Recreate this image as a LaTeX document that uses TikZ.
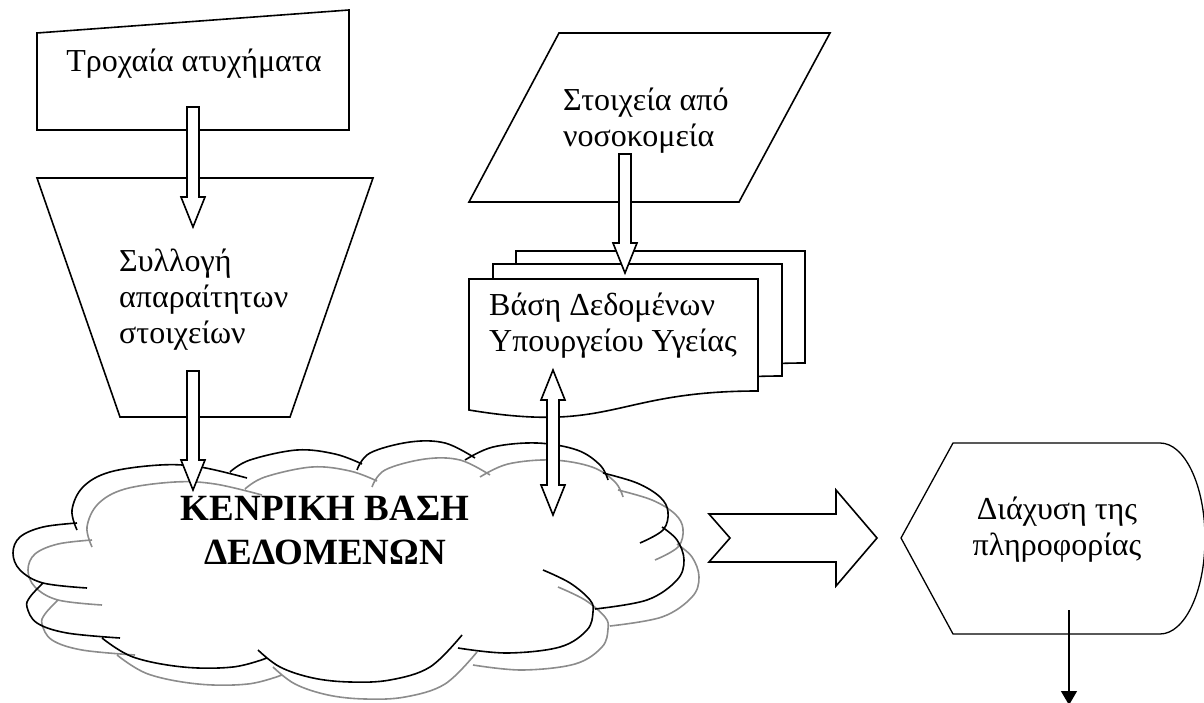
\documentclass[tikz,border=0pt]{standalone}
\usepackage{fontspec}
\setmainfont{Liberation Serif}
\usepackage{tikz}
\usetikzlibrary{calc}
\usetikzlibrary{arrows.meta}

\tikzset{
	shapeline/.style={draw, line width=1.6pt, fill=white, line join=miter},
	boxtext/.style={inner sep=0pt, font=\fontsize{32}{36}\selectfont},
	basetext/.style={inner sep=0pt, font=\fontsize{37}{44}\selectfont\bfseries},
	cloudline/.style={line width=1.6pt, black},
	cloudshadow/.style={line width=1.6pt, black!45},
	puff/.style={smooth, tension=0.6},
	hollow arrow/.style={shapeline, to path={
		($(\tikztotarget)!30pt!(\tikztostart)$) coordinate (ha-b)
		($(\tikztostart)!6pt!90:(\tikztotarget)$)
		-- ($(ha-b)!6pt!90:(\tikztotarget)$)
		-- ($(ha-b)!12pt!90:(\tikztotarget)$)
		-- (\tikztotarget)
		-- ($(ha-b)!12pt!-90:(\tikztotarget)$)
		-- ($(ha-b)!6pt!-90:(\tikztotarget)$)
		-- ($(\tikztostart)!6pt!-90:(\tikztotarget)$) -- cycle}},
	double hollow arrow/.style={shapeline, to path={
		($(\tikztotarget)!30pt!(\tikztostart)$) coordinate (hb-e)
		($(\tikztostart)!30pt!(\tikztotarget)$) coordinate (hb-s)
		(\tikztostart)
		-- ($(hb-s)!12pt!90:(\tikztotarget)$)
		-- ($(hb-s)!6pt!90:(\tikztotarget)$)
		-- ($(hb-e)!6pt!90:(\tikztotarget)$)
		-- ($(hb-e)!12pt!90:(\tikztotarget)$)
		-- (\tikztotarget)
		-- ($(hb-e)!12pt!-90:(\tikztotarget)$)
		-- ($(hb-e)!6pt!-90:(\tikztotarget)$)
		-- ($(hb-s)!6pt!-90:(\tikztotarget)$)
		-- ($(hb-s)!12pt!-90:(\tikztotarget)$) -- cycle}},
	notched arrow/.style={shapeline, to path={
		($(\tikztotarget)!41pt!(\tikztostart)$) coordinate (na-b)
		($(\tikztostart)!21pt!(\tikztotarget)$) coordinate (na-n)
		($(\tikztostart)!24pt!90:(\tikztotarget)$)
		-- ($(na-b)!24pt!90:(\tikztotarget)$)
		-- ($(na-b)!48pt!90:(\tikztotarget)$)
		-- (\tikztotarget)
		-- ($(na-b)!48pt!-90:(\tikztotarget)$)
		-- ($(na-b)!24pt!-90:(\tikztotarget)$)
		-- ($(\tikztostart)!24pt!-90:(\tikztotarget)$)
		-- (na-n) -- cycle}}
}

\newcommand{\cloudpuffs}{
	plot[puff] coordinates {(77,172) (72,192) (83,215) (110,230) (160,237) (200,235) (247,224)}
	plot[puff] coordinates {(230,230) (250,242) (297,252) (335,248) (362,238)}
	plot[puff] coordinates {(357,232) (370,249) (410,260) (445,259) (475,244)}
	plot[puff] coordinates {(465,242) (493,255) (537,259) (577,252) (600,237) (608,222)}
	plot[puff] coordinates {(603,229) (637,219) (660,205) (668,190) (663,172) (640,159)}
	plot[puff] coordinates {(662,175) (677,162) (684,142) (677,122) (647,102) (595,93)}
	plot[puff] coordinates {(543,132) (570,119) (590,102) (593,90) (587,72) (560,55) (507,49) (458,54)}
	plot[puff] coordinates {(258,52) (280,35) (313,24) (350,20) (390,22) (430,35) (462,67)}
	plot[puff] coordinates {(102,64) (133,45) (183,35) (233,35) (267,44)}
	plot[puff] coordinates {(43,119) (30,105) (27,95) (37,79) (67,69) (120,64)}
	plot[puff] coordinates {(77,179) (43,175) (20,165) (13,149) (20,132) (43,119) (87,114)}
}

\begin{document}
\begin{tikzpicture}[x=1pt, y=1pt]
		\useasboundingbox (0,0) rectangle (1204,702);

		\draw[shapeline] (37,572) -- (37,669) -- (349,692) -- (349,572) -- cycle;
		\node[boxtext, anchor=base] (acc) at (194,630) {Τροχαία ατυχήματα};

		\draw[shapeline] (37,524) -- (373,524) -- (290,285) -- (120,285) -- cycle;
		\node[boxtext, anchor=west, align=left] (coll) at (119,402) {Συλλογή\\απαραίτητων\\στοιχείων};

		\draw[shapeline] (559,669) -- (830,669) -- (739,500) -- (469,500) -- cycle;
		\node[boxtext, anchor=west, align=left] (hosp) at (563,581) {Στοιχεία από\\νοσοκομεία};

		\foreach \dx/\dy in {47/28, 24/15, 0/0}
			\draw[shapeline, shift={(\dx,\dy)}] (469,423) -- (758,423) -- (758,311)
				.. controls (613.5,311) and (613.5,268) .. (469,292) -- cycle;
		\node[boxtext, anchor=west, align=left] (moh) at (489,376) {Βάση Δεδομένων\\Υπουργείου Υγείας};

		\draw[cloudshadow, shift={(15,-17)}] \cloudpuffs;
		\draw[cloudline] \cloudpuffs;
		\node[basetext, align=center] (base) at (325,172) {ΚΕΝΡΙΚΗ ΒΑΣΗ\\ΔΕΔΟΜΕΝΩΝ};

		\draw[shapeline, line width=1.3pt] (901,164) -- (953,259) -- (1160,259)
			arc[start angle=90, end angle=-90, x radius=45, y radius=95.5] -- (953,68) -- cycle;
		\node[boxtext, align=center] (spread) at (1057,172) {Διάχυση της\\πληροφορίας};

		\coordinate (acc-out) at (193,595);
		\coordinate (coll-in) at (193,475);
		\coordinate (coll-out) at (193,331);
		\coordinate (base-in) at (193,212);
		\coordinate (hosp-out) at (625,548);
		\coordinate (moh-in) at (625,429);
		\coordinate (moh-io) at (553,332);
		\coordinate (base-io) at (553,187);
		\coordinate (base-out) at (709,164);
		\coordinate (spread-in) at (877,164);
		\coordinate (spread-out) at (1069,92);
		\coordinate (spread-end) at (1069,-3);

		\draw[hollow arrow] (acc-out) to (coll-in);
		\draw[hollow arrow] (coll-out) to (base-in);
		\draw[hollow arrow] (hosp-out) to (moh-in);
		\draw[double hollow arrow] (moh-io) to (base-io);
		\draw[notched arrow] (base-out) to (spread-in);
		\draw[line width=1.3pt, -{Triangle[length=14pt, width=16pt]}] (spread-out) -- (spread-end);
	\end{tikzpicture}
\end{document}
